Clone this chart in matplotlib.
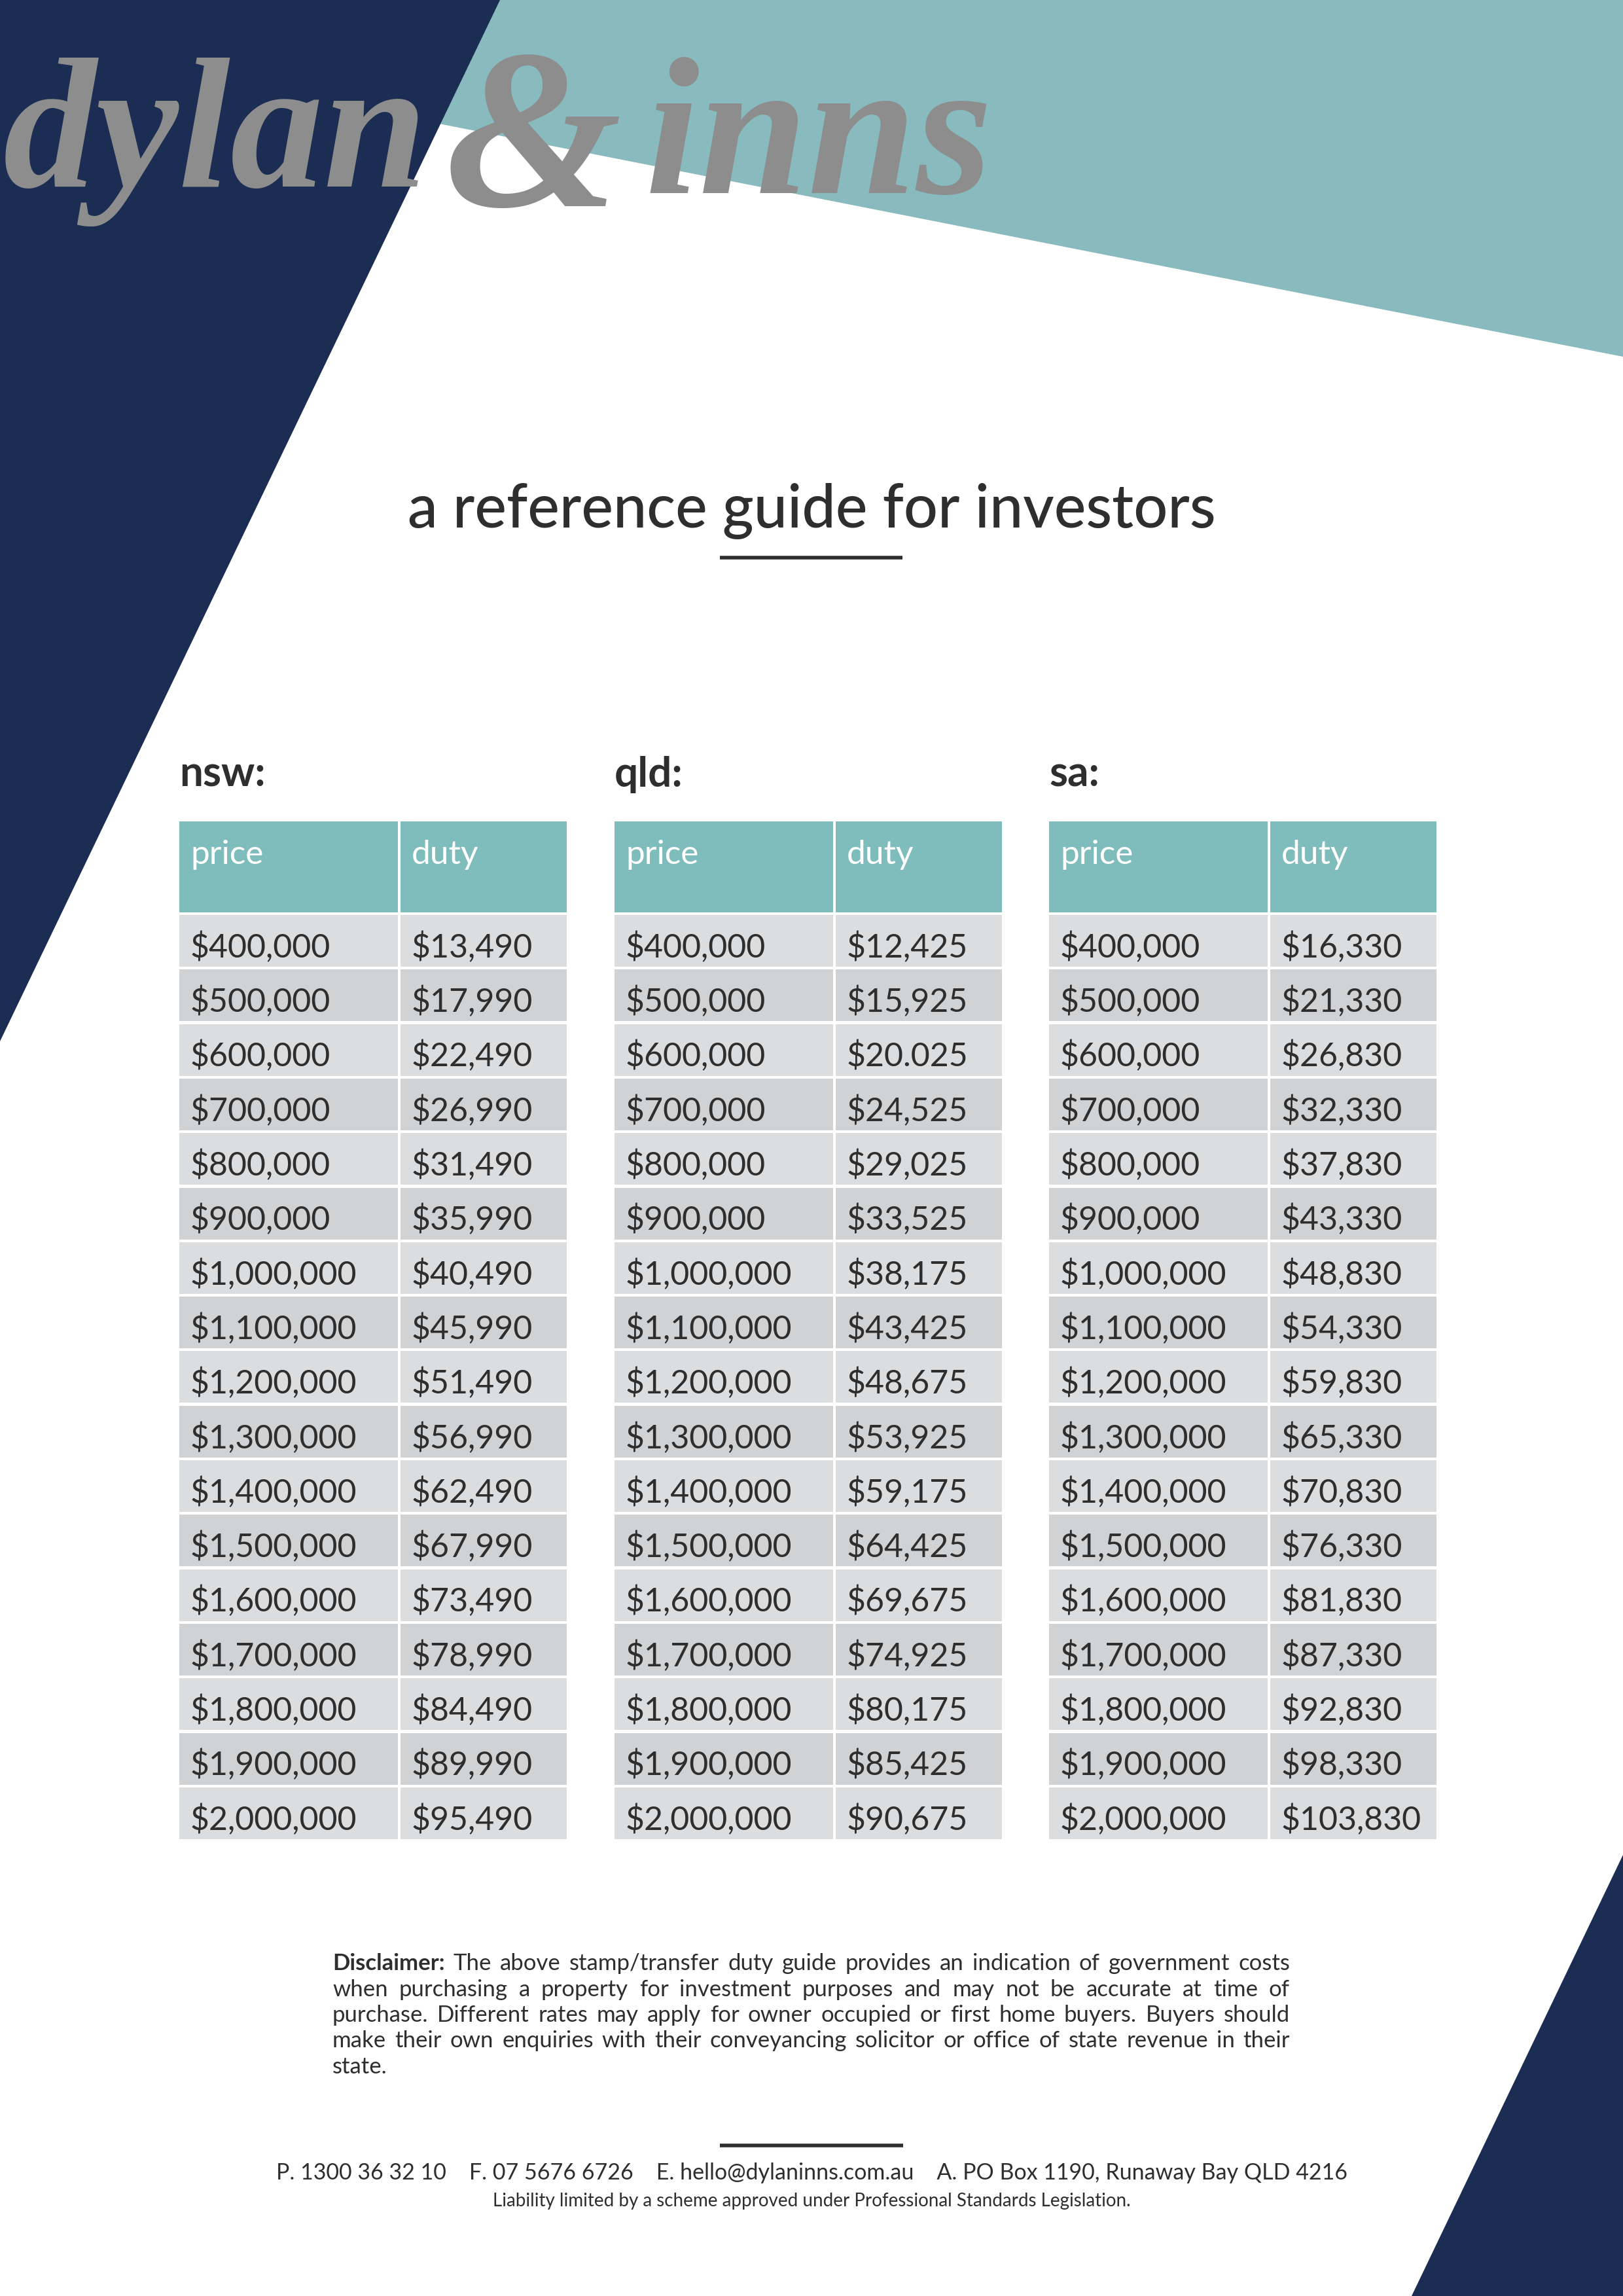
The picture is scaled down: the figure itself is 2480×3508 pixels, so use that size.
import matplotlib
matplotlib.use("Agg")
import matplotlib.pyplot as plt
from matplotlib.patches import Polygon, Rectangle

# --- DATA ---
states = ["nsw:", "qld:", "sa:"]
headers = ["price", "duty"]
prices = ["$400,000", "$500,000", "$600,000", "$700,000", "$800,000", "$900,000",
          "$1,000,000", "$1,100,000", "$1,200,000", "$1,300,000", "$1,400,000",
          "$1,500,000", "$1,600,000", "$1,700,000", "$1,800,000", "$1,900,000",
          "$2,000,000"]
nsw_duty = ["$13,490", "$17,990", "$22,490", "$26,990", "$31,490", "$35,990",
            "$40,490", "$45,990", "$51,490", "$56,990", "$62,490", "$67,990",
            "$73,490", "$78,990", "$84,490", "$89,990", "$95,490"]
qld_duty = ["$12,425", "$15,925", "$20.025", "$24,525", "$29,025", "$33,525",
            "$38,175", "$43,425", "$48,675", "$53,925", "$59,175", "$64,425",
            "$69,675", "$74,925", "$80,175", "$85,425", "$90,675"]
sa_duty = ["$16,330", "$21,330", "$26,830", "$32,330", "$37,830", "$43,330",
           "$48,830", "$54,330", "$59,830", "$65,330", "$70,830", "$76,330",
           "$81,830", "$87,330", "$92,830", "$98,330", "$103,830"]
duties = [nsw_duty, qld_duty, sa_duty]

title = "a reference guide for investors"
disclaimer_lines = [
    "The above stamp/transfer duty guide provides an indication of government costs",
    "when purchasing a property for investment purposes and may not be accurate at time of",
    "purchase. Different rates may apply for owner occupied or first home buyers. Buyers should",
    "make their own enquiries with their conveyancing solicitor or office of state revenue in their",
    "state.",
]
contact = "P. 1300 36 32 10    F. 07 5676 6726    E. hello@dylaninns.com.au    A. PO Box 1190, Runaway Bay QLD 4216"
liability = "Liability limited by a scheme approved under Professional Standards Legislation."

# --- STYLE ---
NAVY = "#1b2d52"
TEAL_BG = "#88babe"
TEAL_HEAD = "#7fbdbd"
ROW_LIGHT = "#dcdddf"
ROW_DARK = "#d1d2d4"
TEXT = "#2e2e2e"
LOGO = "#8d8d8d"
FONT = "Lato"

W, H = 2480, 3508
fig = plt.figure(figsize=(W / 100, H / 100), dpi=100)
ax = fig.add_axes([0, 0, 1, 1])
ax.set_xlim(0, W)
ax.set_ylim(H, 0)
ax.axis("off")

# background shapes
ax.add_patch(Polygon([(0, 0), (W, 0), (W, 545), (0, 57)], closed=True, color=TEAL_BG, lw=0))
ax.add_patch(Polygon([(0, 0), (764, 0), (0, 1591)], closed=True, color=NAVY, lw=0))
ax.add_patch(Polygon([(W, 2834), (W, H), (2157, H)], closed=True, color=NAVY, lw=0))

# logo
logo_kw = dict(color=LOGO, family="Liberation Serif", weight="bold", style="italic",
               va="baseline", ha="left")
ax.text(5, 285, "dylan", fontsize=205, **logo_kw)
ax.text(680, 315, "&", fontsize=250, **logo_kw)
ax.text(985, 295, "inns", fontsize=215, **logo_kw)

# title
ax.text(W / 2, 806, title, fontsize=66, family=FONT, weight="medium", color=TEXT,
        ha="center", va="baseline")
ax.plot([1100, 1379], [852, 852], color=TEXT, lw=4, solid_capstyle="butt")

# tables
table_x = [274, 939, 1603]
col_w = [334, 254]
gap = 4
head_top, head_bot = 1255, 1394
row_top0, row_pitch, row_h = 1398, 83.3, 79

for t, state in enumerate(states):
    x0 = table_x[t]
    ax.text(x0, 1202, state, fontsize=46, family=FONT, weight="bold", color=TEXT,
            ha="left", va="baseline")
    col_x = [x0, x0 + col_w[0] + gap]
    for c, head in enumerate(headers):
        ax.add_patch(Rectangle((col_x[c], head_top), col_w[c], head_bot - head_top,
                               color=TEAL_HEAD, lw=0))
        ax.text(col_x[c] + 17, 1320, head, fontsize=37, family=FONT,
                color="white", ha="left", va="baseline")
    for r, (p, d) in enumerate(zip(prices, duties[t])):
        y = row_top0 + r * row_pitch
        shade = ROW_LIGHT if r % 2 == 0 else ROW_DARK
        for c, val in enumerate([p, d]):
            ax.add_patch(Rectangle((col_x[c], y), col_w[c], row_h, color=shade, lw=0))
            ax.text(col_x[c] + 17, y + 65, val, fontsize=36, family=FONT,
                    color=TEXT, ha="left", va="baseline")

# disclaimer, justified line by line
renderer = fig.canvas.get_renderer()
dis_left, dis_right = 508, 1971
dis_y0, dis_step = 3000, 39.5
for i, line in enumerate(disclaimer_lines):
    y = dis_y0 + i * dis_step
    items = []
    if i == 0:
        items.append(ax.text(dis_left, y, "Disclaimer:", fontsize=25, family=FONT,
                             weight="bold", color=TEXT, ha="left", va="center"))
    for w in line.split():
        items.append(ax.text(dis_left, y, w, fontsize=25, family=FONT, color=TEXT,
                             ha="left", va="center"))
    widths = [it.get_window_extent(renderer).width for it in items]
    if i < len(disclaimer_lines) - 1:
        space = (dis_right - dis_left - sum(widths)) / (len(items) - 1)
    else:
        space = 7
    x = dis_left
    for it, wd in zip(items, widths):
        it.set_x(x)
        x += wd + space

# footer
ax.plot([1100, 1380], [3278, 3278], color=TEXT, lw=4, solid_capstyle="butt")
ax.text(W / 2, 3320, contact, fontsize=24.5, family=FONT, color=TEXT, ha="center", va="center")
ax.text(W / 2, 3363, liability, fontsize=20, family=FONT, color=TEXT, ha="center", va="center")

fig.savefig("out.png", dpi=100)
